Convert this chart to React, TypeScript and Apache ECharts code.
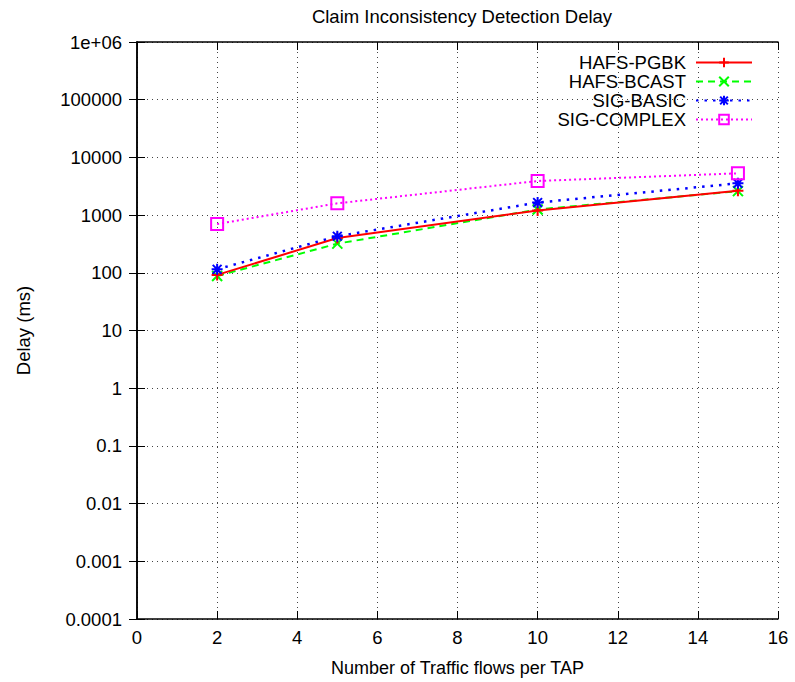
import React, { useEffect, useRef } from "react";
import * as echarts from "echarts";

const xValues = [2, 5, 10, 15];
const hafsPgbk = [92, 400, 1200, 2650];
const hafsBcast = [88, 320, 1250, 2600];
const sigBasic = [115, 430, 1650, 3550];
const sigComplex = [700, 1600, 3900, 5300];
const seriesNames = ["HAFS-PGBK", "HAFS-BCAST", "SIG-BASIC", "SIG-COMPLEX"];

const FONT = "Liberation Sans, Arial, sans-serif";
const FS = 18.5;

const plusPath = "path://M0,5L10,5M5,0L5,10";
const crossPath = "path://M0,0L10,10M10,0L0,10";
const starPath = "path://M0,5L10,5M5,0L5,10M1,1L9,9M9,1L1,9";

function fmtY(v: number): string {
  if (v >= 999999) return "1e+06";
  return String(Number(v.toPrecision(1)));
}

export default function App() {
  const ref = useRef<HTMLDivElement>(null);
  useEffect(() => {
    if (!ref.current) return;
    const chart = echarts.init(ref.current, undefined, { renderer: "svg" });
    const pair = (ys: number[]) => xValues.map((x, i) => [x, ys[i]]);
    const axisLineStyle = { color: "#000", width: 1.5 };
    chart.setOption({
      animation: false,
      backgroundColor: "#fff",
      title: {
        text: "Claim Inconsistency Detection Delay",
        left: 457,
        textAlign: "center",
        top: 2,
        textStyle: { fontFamily: FONT, fontSize: FS, fontWeight: "normal", color: "#000" },
      },
      grid: { left: 137, top: 42, right: 17, bottom: 62, containLabel: false },
      legend: {
        orient: "vertical",
        right: 37,
        top: 48,
        align: "right",
        itemWidth: 56,
        itemHeight: 12,
        itemGap: 0,
        textStyle: {
          fontFamily: FONT,
          fontSize: FS,
          color: "#000",
          lineHeight: 19,
          padding: [0, 5, 0, 0],
        },
        data: seriesNames,
      },
      xAxis: [
        {
          type: "value",
          min: 0,
          max: 16,
          interval: 2,
          name: "Number of Traffic flows per TAP",
          nameLocation: "middle",
          nameGap: 40,
          nameTextStyle: { fontFamily: FONT, fontSize: 18, color: "#000" },
          axisLine: { show: true, lineStyle: axisLineStyle },
          axisTick: { show: true, inside: true, length: 8, lineStyle: { color: "#000", width: 1 } },
          axisLabel: { fontFamily: FONT, fontSize: FS, color: "#000", margin: 9 },
          splitLine: { show: true, lineStyle: { color: "#444", type: [1, 4], width: 1 } },
        },
        {
          type: "value",
          position: "top",
          min: 0,
          max: 16,
          interval: 2,
          axisLine: { show: true, lineStyle: axisLineStyle },
          axisTick: { show: true, inside: true, length: 8, lineStyle: { color: "#000", width: 1 } },
          axisLabel: { show: false },
          splitLine: { show: false },
        },
      ],
      yAxis: [
        {
          type: "log",
          logBase: 10,
          min: 0.0001,
          max: 1000000,
          splitNumber: 10,
          name: "Delay (ms)",
          nameLocation: "middle",
          nameGap: 104,
          nameRotate: 90,
          nameTextStyle: { fontFamily: FONT, fontSize: FS, color: "#000" },
          axisLine: { show: true, lineStyle: axisLineStyle },
          axisTick: { show: true, inside: true, length: 8, lineStyle: { color: "#000", width: 1 } },
          axisLabel: { fontFamily: FONT, fontSize: FS, color: "#000", margin: 15, formatter: fmtY },
          splitLine: { show: true, lineStyle: { color: "#444", type: [1, 4], width: 1 } },
        },
        {
          type: "log",
          logBase: 10,
          min: 0.0001,
          max: 1000000,
          splitNumber: 10,
          position: "right",
          axisLine: { show: true, lineStyle: axisLineStyle },
          axisTick: { show: true, inside: true, length: 8, lineStyle: { color: "#000", width: 1 } },
          axisLabel: { show: false },
          splitLine: { show: false },
        },
      ],
      series: [
        {
          name: seriesNames[0],
          type: "line",
          data: pair(hafsPgbk),
          symbol: plusPath,
          symbolSize: 11,
          lineStyle: { color: "#ff0000", width: 2, type: "solid" },
          itemStyle: { color: "#ff0000", borderColor: "#ff0000", borderWidth: 2 },
          z: 4,
        },
        {
          name: seriesNames[1],
          type: "line",
          data: pair(hafsBcast),
          symbol: crossPath,
          symbolSize: 10,
          lineStyle: { color: "#00ff00", width: 2, type: [7, 5] },
          itemStyle: { color: "#00ff00", borderColor: "#00ff00", borderWidth: 2 },
          z: 3,
        },
        {
          name: seriesNames[2],
          type: "line",
          data: pair(sigBasic),
          symbol: starPath,
          symbolSize: 11,
          lineStyle: { color: "#0000ff", width: 2.5, type: [2.5, 6] },
          itemStyle: { color: "#0000ff", borderColor: "#0000ff", borderWidth: 2 },
          z: 5,
        },
        {
          name: seriesNames[3],
          type: "line",
          data: pair(sigComplex),
          symbol: "rect",
          symbolSize: 12,
          lineStyle: { color: "#ff00ff", width: 2, type: [2, 3] },
          itemStyle: { color: "rgba(255,255,255,0)", borderColor: "#ff00ff", borderWidth: 2 },
          z: 6,
        },
      ],
    });
    return () => chart.dispose();
  }, []);
  return (
    <div
      ref={ref}
      style={{ position: "fixed", left: 0, top: 0, width: 795, height: 682 }}
    />
  );
}
